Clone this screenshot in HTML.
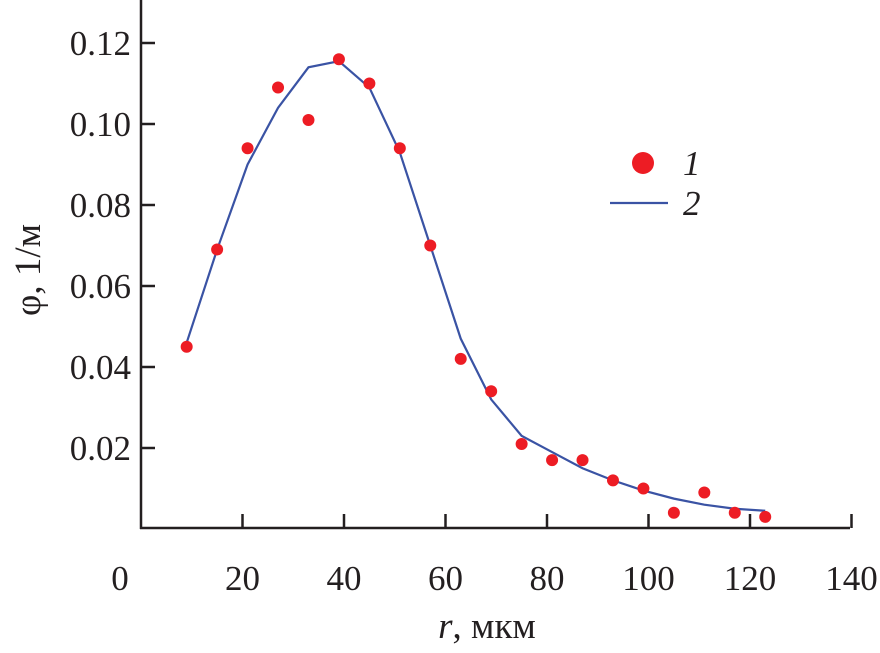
<!DOCTYPE html>
<html><head><meta charset="utf-8"><style>
body{margin:0;background:#fff}
svg text{font-family:"Liberation Serif","DejaVu Serif",serif;fill:#231f20}
</style></head><body>
<svg width="880" height="648" id="c"></svg>
<script>
const xTicks=[0,20,40,60,80,100,120,140];
const yTicks=[0.02,0.04,0.06,0.08,0.10,0.12];
const yTickLabels=["0.02","0.04","0.06","0.08","0.10","0.12"];
const pointX=[9,15,21,27,33,39,45,51,57,63,69,75,81,87,93,99,105,111,117,123];
const pointY=[0.045,0.069,0.094,0.109,0.101,0.116,0.110,0.094,0.070,0.042,0.034,0.021,0.017,0.017,0.012,0.010,0.004,0.009,0.004,0.003];
const lineX=[9,15,21,27,33,39,45,51,57,63,69,75,81,87,93,99,105,111,117,123];
const lineY=[0.046,0.069,0.090,0.104,0.114,0.1155,0.109,0.093,0.070,0.047,0.032,0.023,0.019,0.015,0.012,0.0095,0.0075,0.006,0.005,0.0045];
const svg=document.getElementById('c');
const NS='http://www.w3.org/2000/svg';
const X=v=>141+v*5.075, Y=v=>529-v*4050;
function mk(t,a,p){const e=document.createElementNS(NS,t);for(const k in a)e.setAttribute(k,a[k]);(p||svg).appendChild(e);return e;}
let e=mk('line',{x1:141,y1:0,x2:141,y2:529,stroke:'#231f20','stroke-width':2.5});

e=mk('line',{x1:140,y1:528,x2:850,y2:528,stroke:'#231f20','stroke-width':2.5});

xTicks.forEach((t,i)=>{
 if(i>0){e=mk('line',{x1:X(t),y1:528,x2:X(t),y2:514,stroke:'#231f20','stroke-width':2.5});
 }
 e=mk('text',{x:i==0?120:X(t),y:590,'font-size':35,'text-anchor':'middle'});e.textContent=t;
 
});
yTicks.forEach((t,i)=>{
 e=mk('line',{x1:141,y1:Y(t),x2:155,y2:Y(t),stroke:'#231f20','stroke-width':2.5});
 
 e=mk('text',{x:131,y:Y(t)+12,'font-size':35,'text-anchor':'end'});e.textContent=yTickLabels[i];
 
});
e=mk('polyline',{points:lineX.map((x,i)=>X(x)+','+Y(lineY[i])).join(' '),fill:'none',stroke:'#3a53a4','stroke-width':2.2});

pointX.forEach((x,i)=>{e=mk('circle',{cx:X(x),cy:Y(pointY[i]),r:6,fill:'#ed1c24'});
 });
e=mk('circle',{cx:643,cy:163,r:11,fill:'#ed1c24'});
e=mk('text',{x:683,y:175,'font-size':35,'font-style':'italic'});e.textContent='1';
e=mk('line',{x1:610,y1:203,x2:668,y2:203,stroke:'#3a53a4','stroke-width':2.2});
e=mk('text',{x:683,y:215,'font-size':35,'font-style':'italic'});e.textContent='2';
e=mk('text',{x:487,y:638,'font-size':37,'text-anchor':'middle'});e.innerHTML='<tspan font-style="italic">r</tspan>, мкм';

e=mk('text',{x:0,y:0,'font-size':37,'text-anchor':'middle',transform:'translate(40,270) rotate(-90)'});e.textContent='φ, 1/м';

</script>
</body></html>
